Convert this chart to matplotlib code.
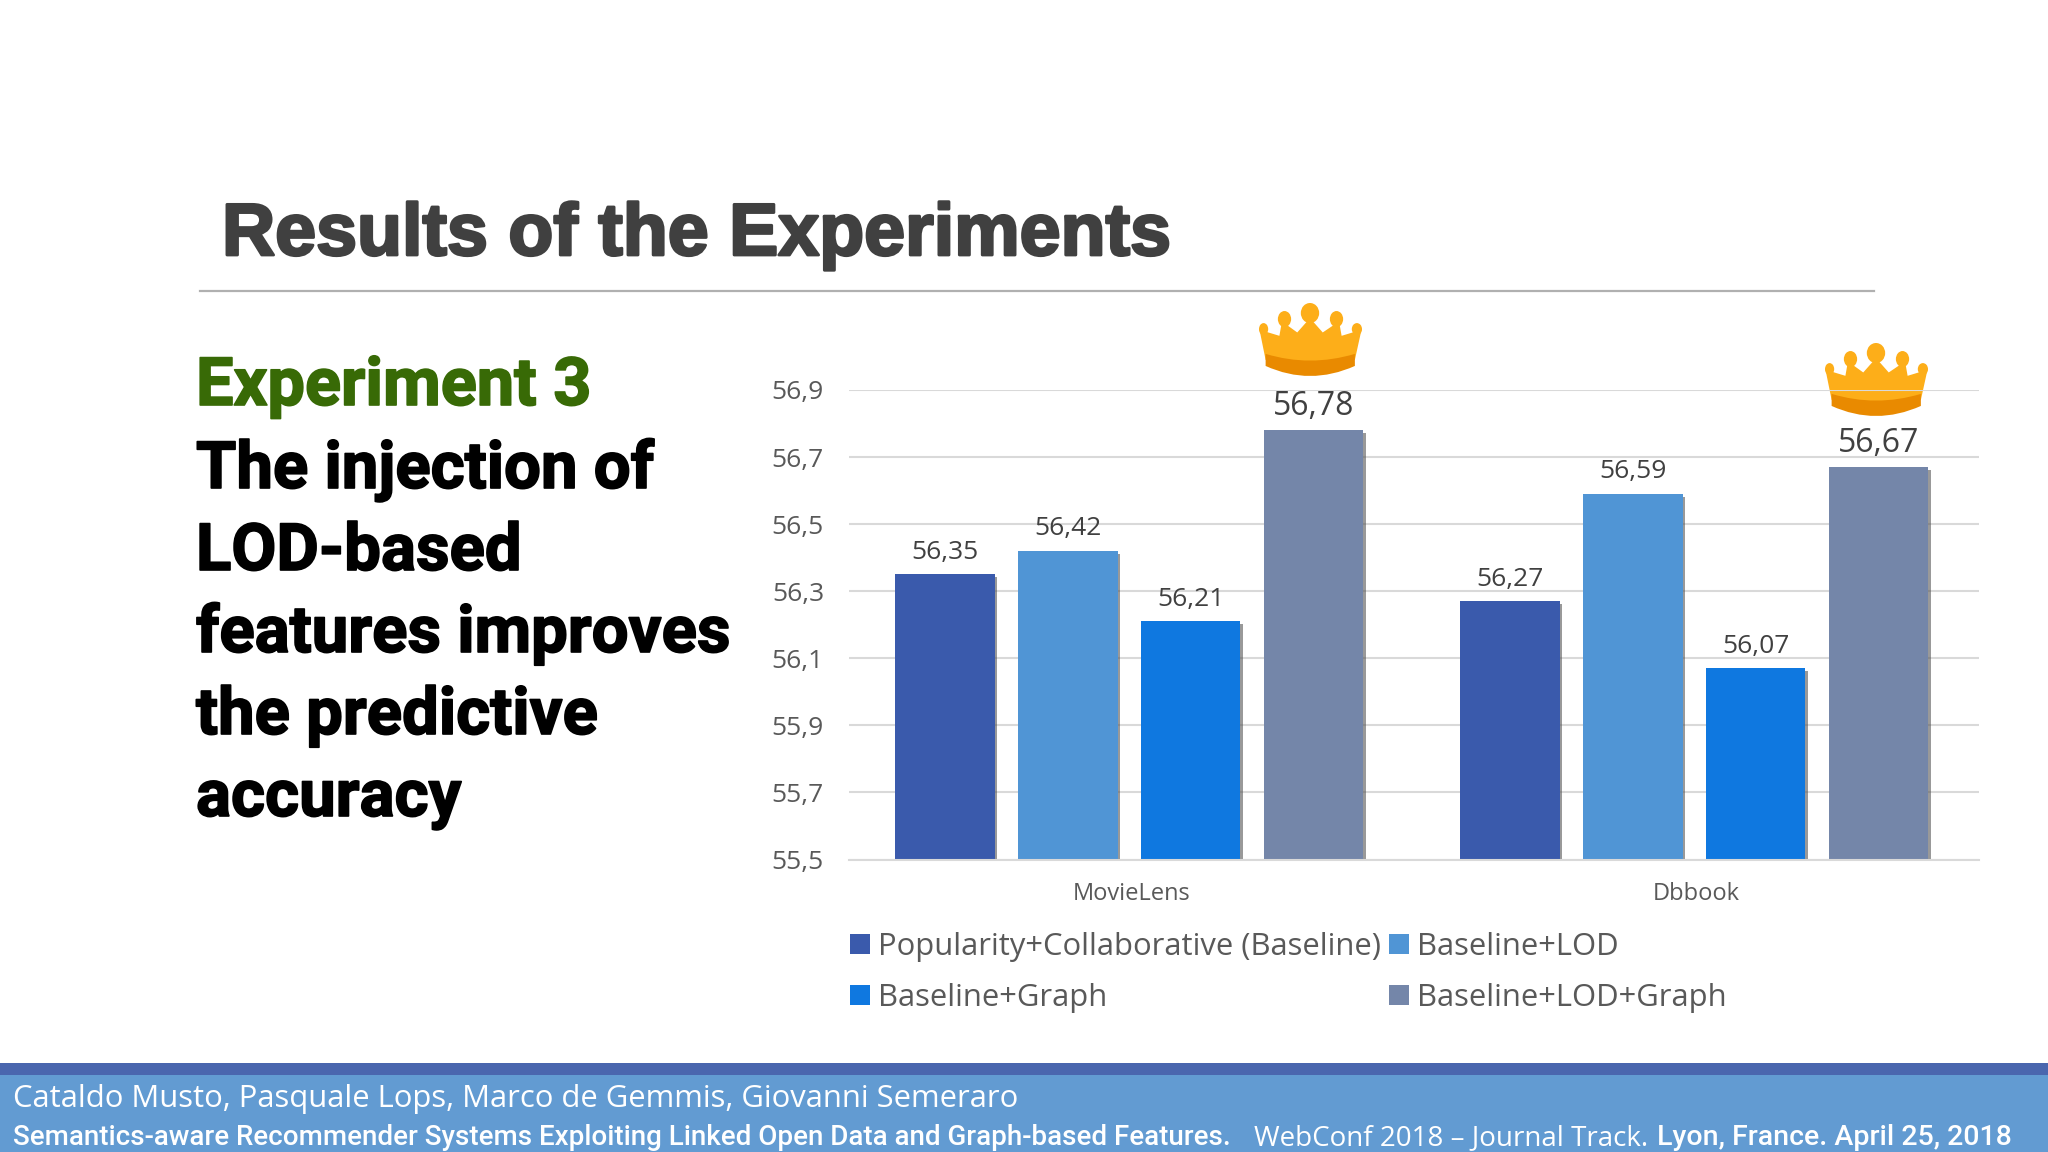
import matplotlib
matplotlib.use("Agg")
import matplotlib.pyplot as plt
import matplotlib.patheffects as pe
from matplotlib.patches import Rectangle, Ellipse, Polygon, PathPatch
from matplotlib.path import Path
from matplotlib.ticker import FuncFormatter
import numpy as np

datasets = ["MovieLens", "Dbbook"]
seriesNames = ["Popularity+Collaborative (Baseline)", "Baseline+LOD", "Baseline+Graph", "Baseline+LOD+Graph"]
baseline = [56.35, 56.27]
baselineLod = [56.42, 56.59]
baselineGraph = [56.21, 56.07]
baselineLodGraph = [56.78, 56.67]
seriesValues = [baseline, baselineLod, baselineGraph, baselineLodGraph]
seriesColors = ["#3a5aac", "#5095d5", "#0f78e0", "#7486a9"]
yTicks = [55.5, 55.7, 55.9, 56.1, 56.3, 56.5, 56.7, 56.9]
headingLines = ["The injection of", "LOD-based", "features improves", "the predictive", "accuracy"]

W, H = 2048, 1152
plt.rcParams['font.family'] = ['Open Sans', 'DejaVu Sans']
fig = plt.figure(figsize=(W / 100, H / 100), dpi=100, facecolor="white")

# overlay in pixel coordinates for the slide furniture
bg = fig.add_axes([0, 0, 1, 1])
bg.set_xlim(0, W)
bg.set_ylim(H, 0)
bg.axis("off")

bg.text(222, 255, "Results of the Experiments", fontsize=53, family="Liberation Sans", weight="bold", color="#404040",
        path_effects=[pe.withStroke(linewidth=2, foreground="#404040")])
bg.plot([200, 1874], [291, 291], color="#b0b0b0", lw=1.6)

heavy = [pe.withStroke(linewidth=1.2, foreground="black")]
bg.text(196, 405, "Experiment 3", fontsize=48, family="Roboto", weight="bold", color="#386a06",
        path_effects=[pe.withStroke(linewidth=1.2, foreground="#386a06")])
for i, line in enumerate(headingLines):
    bg.text(196, 488 + i * 82, line, fontsize=47, family="Roboto", weight="bold", color="black", path_effects=heavy)

# footer
bg.add_patch(Rectangle((0, 1063), W, 12, color="#4a66ae", lw=0))
bg.add_patch(Rectangle((0, 1075), W, 77, color="#629bd2", lw=0))
bg.text(13, 1107, "Cataldo Musto, Pasquale Lops, Marco de Gemmis, Giovanni Semeraro", fontsize=22.3, color="white")
bg.text(13, 1145, "Semantics-aware Recommender Systems Exploiting Linked Open Data and Graph-based Features.", fontsize=20, family="Roboto", weight="medium", color="white")
bg.text(1254, 1145, "WebConf 2018 – Journal Track.", fontsize=20, color="white")
bg.text(1657, 1145, "Lyon, France. April 25, 2018", fontsize=20.5, family="Roboto", weight="medium", color="white")

# chart
ax = fig.add_axes([849 / W, (H - 859.5) / H, 1130 / W, 469.5 / H])
ax.patch.set_alpha(0)
ax.set_xlim(-0.5, 1.5)
ax.set_ylim(55.5, 56.9)
ax.set_yticks(yTicks)
ax.yaxis.set_major_formatter(FuncFormatter(lambda v, p: ("%.1f" % v).replace(".", ",")))
ax.set_xticks(range(len(datasets)))
ax.set_xticklabels(datasets, fontsize=17, color="#595959")
ax.tick_params(axis="both", length=0)
ax.tick_params(axis="y", labelsize=19, labelcolor="#595959", pad=18)
ax.tick_params(axis="x", pad=16)
ax.grid(axis="y", color="#d9d9d9", lw=1.5)
ax.set_axisbelow(True)
for s in ["top", "right", "left"]:
    ax.spines[s].set_visible(False)
ax.spines["bottom"].set_color("#d9d9d9")
ax.spines["bottom"].set_linewidth(1.5)

x = np.arange(len(datasets))
step = 0.2175
width = 0.176
handles = []
for i, name in enumerate(seriesNames):
    bars = ax.bar(x + (i - 1.5) * step - 0.004, seriesValues[i], width, bottom=0, color=seriesColors[i], label=name,
                  path_effects=[pe.SimplePatchShadow(offset=(2, -2), shadow_rgbFace="#555555", alpha=0.6), pe.Normal()])
    handles.append(Rectangle((0, 0), 1, 1, color=seriesColors[i], lw=0))
    size = 23 if i == 3 else 19
    weight = "medium" if i == 3 else "normal"
    pad = 5 if i == 3 else 7
    ax.bar_label(bars, labels=[("%.2f" % v).replace(".", ",") for v in seriesValues[i]], padding=pad,
                 fontsize=size, color="#404040", weight=weight)

order = [0, 2, 1, 3]
leg = ax.legend([handles[i] for i in order], [seriesNames[i] for i in order], ncol=2, frameon=False, fontsize=22.3,
                labelcolor="#595959", handlelength=0.65, handleheight=0.65, handletextpad=0.26, columnspacing=0.25,
                labelspacing=0.68, loc="upper left", bbox_to_anchor=(0.001, -0.154), borderaxespad=0, borderpad=0)

# crowns
def crown(x0, y0, w=103.0, h=73.0):
    def pt(zx, zy):
        return (x0 + (zx - 115) / 202.0 * w, y0 + (zy - 70) / 218.0 * h)
    gold = "#fdae19"
    dark = "#e98a00"
    for zx, zy, rx, ry in [(124, 148, 9, 18), (165, 118, 13, 24), (215, 100, 18, 30), (267, 118, 13, 24), (307, 148, 10, 18)]:
        cx, cy = pt(zx, zy)
        bg.add_patch(Ellipse((cx, cy), rx * 2 / 202.0 * w, ry * 2 / 218.0 * h, color=gold, lw=0))
    body = [(116, 150), (155, 168), (160, 125), (190, 158), (215, 115), (240, 158), (272, 125), (277, 168), (316, 150),
            (303, 240), (215, 258), (128, 240)]
    bg.add_patch(Polygon([pt(*p) for p in body], closed=True, color=gold, lw=0))
    verts = [pt(128, 222), pt(215, 262), pt(303, 222), pt(303, 258), pt(215, 318), pt(128, 258), pt(128, 222)]
    codes = [Path.MOVETO, Path.CURVE3, Path.CURVE3, Path.LINETO, Path.CURVE3, Path.CURVE3, Path.CLOSEPOLY]
    bg.add_patch(PathPatch(Path(verts, codes), color=dark, lw=0))

crown(1259, 303)
crown(1825, 343)

fig.savefig("out.png", dpi=100)
